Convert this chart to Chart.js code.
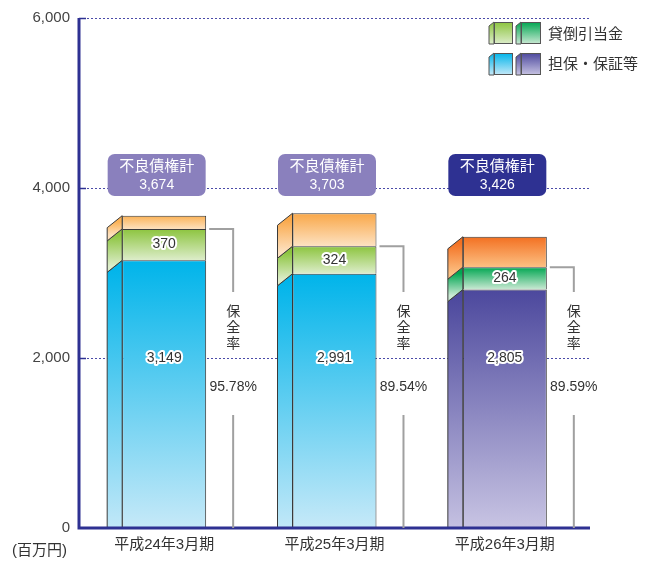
<!DOCTYPE html>
<html><head><meta charset="utf-8">
<script src="https://cdn.jsdelivr.net/npm/chart.js@4"></script>
<style>html,body{margin:0;padding:0;background:#fff}#wrap{width:654px;height:561px;position:relative}</style>
</head><body><div id="wrap"><canvas id="c" width="654" height="561"></canvas></div>
<script>
const categories = ['平成24年3月期', '平成25年3月期', '平成26年3月期'];
const collateral = [3149, 2991, 2805];   // 担保・保証等
const allowance = [370, 324, 264];       // 貸倒引当金
const uncovered = [155, 388, 357];       // 未保全部分
const totals = [3674, 3703, 3426];       // 不良債権計
const coverageRates = ['95.78%', '89.54%', '89.59%'];
const yTicks = [0, 2000, 4000, 6000];
const legendLabels = ['貸倒引当金', '担保・保証等'];
const boxTitle = '不良債権計';
const rateLabel = '保全率';
const unitLabel = '(百万円)';

const FONT = "'Liberation Sans','Noto Sans CJK JP',sans-serif";
Chart.defaults.font.family = FONT;

const bottomColors = [['#00b4ea', '#c6e9f8'], ['#00b4ea', '#c6e9f8'], ['#4c489d', '#c8c4e3']];
const midColors = [['#8cc43e', '#ddedcb'], ['#8cc43e', '#ddedcb'], ['#00a651', '#cbe9d4']];
const topColors = [['#fbb256', '#fde0bd'], ['#f9a748', '#fde2c2'], ['#f37021', '#fcc083']];
const palettes = [bottomColors, midColors, topColors];
const boxColors = ['#8a80bd', '#8a80bd', '#2e3192'];
const navy = '#2e3192';
const SIDE_DX = 15, SIDE_DY = 12;

function makeGrad(c, yTop, yBot, cols) {
  if (!isFinite(yTop) || !isFinite(yBot) || yTop === yBot) return cols[0];
  const g = c.createLinearGradient(0, yTop, 0, yBot);
  g.addColorStop(0, cols[0]);
  g.addColorStop(1, cols[1]);
  return g;
}

const deco = {
  id: 'deco',
  beforeDatasetsDraw(chart) {
    const c = chart.ctx, y = chart.scales.y, a = chart.chartArea;
    chart.data.datasets.forEach((ds, di) => {
      chart.getDatasetMeta(di).data.forEach((el, i) => {
        el.options.backgroundColor = makeGrad(c, el.y, el.base, palettes[di][i]);
      });
    });
    c.save();
    c.strokeStyle = '#4a4aa8';
    c.lineWidth = 1;
    c.setLineDash([2, 2]);
    yTicks.forEach(v => {
      if (v === 0) return;
      const py = Math.round(y.getPixelForValue(v)) + 0.5;
      c.beginPath(); c.moveTo(a.left, py); c.lineTo(a.right, py); c.stroke();
    });
    c.restore();
  },
  afterDatasetsDraw(chart) {
    const c = chart.ctx, y = chart.scales.y, a = chart.chartArea;
    // side faces
    c.save();
    c.beginPath(); c.rect(0, 0, chart.width, a.bottom); c.clip();
    chart.data.datasets.forEach((ds, di) => {
      const meta = chart.getDatasetMeta(di);
      meta.data.forEach((el, i) => {
        const L = el.x - el.width / 2;
        const t = el.y, b = el.base;
        const cols = palettes[di][i];
        c.beginPath();
        c.moveTo(L, t); c.lineTo(L - SIDE_DX, t + SIDE_DY);
        c.lineTo(L - SIDE_DX, b + SIDE_DY); c.lineTo(L, b); c.closePath();
        c.fillStyle = makeGrad(c, t + SIDE_DY / 2, b + SIDE_DY / 2, cols);
        c.fill();
        c.strokeStyle = '#3a3a3a'; c.lineWidth = 1; c.stroke();
      });
    });
    c.restore();

    // axes + tick stubs
    c.save();
    c.strokeStyle = navy; c.lineWidth = 3;
    c.beginPath();
    c.moveTo(a.left, y.getPixelForValue(6000));
    c.lineTo(a.left, a.bottom);
    c.lineTo(a.right, a.bottom);
    c.stroke();
    c.lineWidth = 1.5;
    yTicks.forEach(v => {
      if (v === 0) return;
      const py = Math.round(y.getPixelForValue(v)) + 0.5;
      c.beginPath(); c.moveTo(a.left, py); c.lineTo(a.left + 7, py); c.stroke();
    });
    c.restore();

    const y2000 = y.getPixelForValue(2000);
    const m0 = chart.getDatasetMeta(0), m1 = chart.getDatasetMeta(1);
    m0.data.forEach((el, i) => {
      const R = el.x + el.width / 2;
      const mid = m1.data[i];
      // value labels
      c.save();
      c.font = '14px ' + FONT;
      c.textAlign = 'center'; c.textBaseline = 'middle';
      c.lineJoin = 'round';
      const labs = [[collateral[i].toLocaleString('en-US'), y2000], [allowance[i].toLocaleString('en-US'), (mid.y + mid.base) / 2]];
      labs.forEach(([txt, py]) => {
        c.strokeStyle = '#fff'; c.lineWidth = 4; c.strokeText(txt, el.x, py);
        c.fillStyle = '#333'; c.fillText(txt, el.x, py);
      });
      c.restore();

      // coverage bracket
      const vx = R + 27;
      c.save();
      c.strokeStyle = '#a0a0a0'; c.lineWidth = 2;
      c.beginPath();
      c.moveTo(R + 3, mid.y); c.lineTo(vx, mid.y); c.lineTo(vx, y2000 - 66);
      c.moveTo(vx, y2000 + 57); c.lineTo(vx, a.bottom);
      c.stroke();
      c.fillStyle = '#333';
      c.font = '14px ' + FONT;
      c.textAlign = 'center'; c.textBaseline = 'middle';
      [...rateLabel].forEach((ch, k) => c.fillText(ch, vx, y2000 - 46 + k * 16));
      c.font = '14px ' + FONT;
      c.fillText(coverageRates[i], vx, y2000 + 29);
      c.restore();

      // total box
      const cx = el.x - SIDE_DX / 2;
      const bw = 98, bh = 42, top = y.getPixelForValue(4000) - 34;
      c.save();
      c.fillStyle = boxColors[i];
      c.beginPath();
      c.roundRect(cx - bw / 2, top, bw, bh, 7);
      c.fill();
      c.fillStyle = '#fff';
      c.textAlign = 'center'; c.textBaseline = 'middle';
      c.font = '15px ' + FONT;
      c.fillText(boxTitle, cx, top + 13);
      c.font = '14px ' + FONT;
      c.fillText(totals[i].toLocaleString('en-US'), cx, top + 31);
      c.restore();
    });

    // legend
    const sw = (x, yy, w, h, cols) => {
      c.save();
      c.strokeStyle = '#555'; c.lineWidth = 1;
      c.beginPath();
      c.moveTo(x + 5, yy); c.lineTo(x, yy + 4); c.lineTo(x, yy + h); c.lineTo(x + 5, yy + h); c.closePath();
      c.fillStyle = makeGrad(c, yy, yy + h, cols); c.fill(); c.stroke();
      c.fillStyle = makeGrad(c, yy, yy + h, cols);
      c.fillRect(x + 5, yy, w - 5, h);
      c.strokeRect(x + 5.5, yy + 0.5, w - 6, h - 1);
      c.restore();
    };
    sw(489, 22, 24, 22, midColors[0]);
    sw(516, 22, 25, 22, midColors[2]);
    sw(489, 53, 24, 22, bottomColors[0]);
    sw(516, 53, 25, 22, bottomColors[2]);
    c.save();
    c.fillStyle = '#333'; c.font = '15px ' + FONT;
    c.textAlign = 'left'; c.textBaseline = 'middle';
    c.fillText(legendLabels[0], 548, 35);
    c.fillText(legendLabels[1], 548, 65);
    c.fillText(unitLabel, 12, 551);
    c.restore();
  }
};

new Chart(document.getElementById('c'), {
  type: 'bar',
  data: {
    labels: categories,
    datasets: [
      { label: '担保・保証等', data: collateral },
      { label: '貸倒引当金', data: allowance },
      { label: '未保全', data: uncovered }
    ].map((d, di) => Object.assign(d, {
      backgroundColor: palettes[di].map(p => p[0]),
      borderColor: '#3a3a3a',
      borderWidth: 1,
      barPercentage: 1,
      categoryPercentage: 0.493
    }))
  },
  options: {
    responsive: false,
    animation: false,
    devicePixelRatio: 1,
    layout: { padding: { top: 17, right: 64, left: 0, bottom: 0 } },
    plugins: { legend: { display: false }, tooltip: { enabled: false } },
    scales: {
      x: {
        stacked: true,
        grid: { display: false, drawTicks: false },
        border: { display: false },
        ticks: { color: '#333', font: { size: 15 }, padding: 8 },
        afterFit: s => { s.height = 33; }
      },
      y: {
        stacked: true,
        min: 0, max: 6000,
        afterBuildTicks: s => { s.ticks = yTicks.map(v => ({ value: v })); },
        grid: { display: false, drawTicks: false },
        border: { display: false },
        ticks: { color: '#444', font: { size: 15 }, padding: 9, callback: v => v.toLocaleString('en-US') },
        afterFit: s => { s.width = 79; }
      }
    }
  },
  plugins: [deco]
});
</script></body></html>
